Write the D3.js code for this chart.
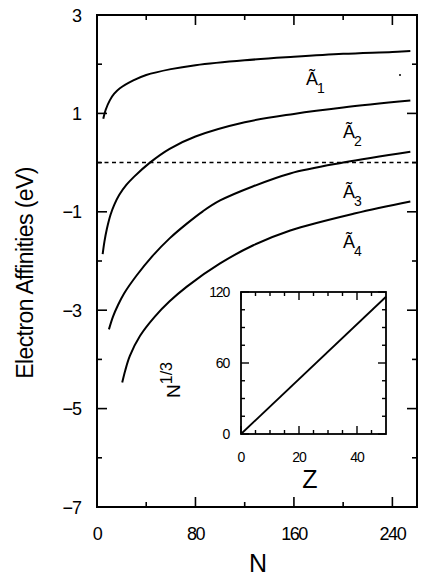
<!DOCTYPE html>
<html><head><meta charset="utf-8">
<script src="https://cdn.jsdelivr.net/npm/d3@7"></script>
<style>
html,body{margin:0;padding:0;background:#fff;}
svg{display:block;}
text{font-family:"Liberation Sans",Arial,sans-serif;fill:#000;}
</style></head>
<body><svg id="c" width="436" height="578"></svg>
<script>
// ---- data ----
const xTicksMajor = [0, 80, 160, 240];
const xTicksMinor = [40, 120, 200];
const yTicksMajor = [3, 1, -1, -3, -5, -7];
const yTicksMinor = [2, 0, -2, -4, -6];
const seriesLabels = ["1", "2", "3", "4"];
const curveA1 = [[5.1,0.89],[7,1.07],[10.5,1.27],[14,1.4],[18.6,1.51],[29.5,1.67],[40,1.78],[60,1.9],[80,1.98],[120,2.08],[160,2.15],[200,2.21],[240,2.25],[254.6,2.27]];
const curveA2 = [[4.6,-1.86],[6,-1.61],[8,-1.35],[11,-1.06],[14,-0.86],[18,-0.66],[24,-0.45],[30,-0.29],[43,0],[59,0.28],[80,0.53],[120,0.82],[160,0.99],[200,1.12],[254.6,1.26]];
const curveA3 = [[9.7,-3.39],[13,-3.13],[17,-2.9],[22,-2.66],[32,-2.3],[45,-1.9],[59,-1.54],[73,-1.24],[86,-0.99],[100,-0.77],[127,-0.48],[157,-0.22],[200,0.0],[254.6,0.22]];
const curveA4 = [[20.5,-4.47],[23,-4.22],[26.7,-3.93],[35,-3.52],[47,-3.13],[59,-2.82],[73,-2.52],[100,-2.05],[127,-1.68],[157,-1.38],[210,-1.03],[254.6,-0.79]];
const referenceLevel = 0;
// inset
const insetXTicksMajor = [0, 20, 40];
const insetXTicksMinor = [5, 10, 15, 25, 30, 35, 45];
const insetYTicksMajor = [0, 60, 120];
const insetYTicksMinor = [15, 30, 45, 75, 90, 105];
const insetLine = [[0,0],[50,116]];

// ---- layout ----
const svg = d3.select("#c");
const x = d3.scaleLinear().domain([0, 260]).range([97, 417]);
const y = d3.scaleLinear().domain([-7, 3]).range([507, 15]);

const g = svg.append("g");
g.append("rect").attr("x", x(0)).attr("y", y(3)).attr("width", x(260)-x(0)).attr("height", y(-7)-y(3))
  .attr("fill","none").attr("stroke","#000").attr("stroke-width",2);

function ticks(sel, vals, len, axis) {
  vals.forEach(v => {
    if (axis === "x") {
      sel.append("line").attr("x1", x(v)).attr("x2", x(v)).attr("y1", y(-7)).attr("y2", y(-7)-len).attr("stroke","#000").attr("stroke-width",1.6);
      sel.append("line").attr("x1", x(v)).attr("x2", x(v)).attr("y1", y(3)).attr("y2", y(3)+len).attr("stroke","#000").attr("stroke-width",1.6);
    } else {
      sel.append("line").attr("y1", y(v)).attr("y2", y(v)).attr("x1", x(0)).attr("x2", x(0)+len).attr("stroke","#000").attr("stroke-width",1.6);
      sel.append("line").attr("y1", y(v)).attr("y2", y(v)).attr("x1", x(260)).attr("x2", x(260)-len).attr("stroke","#000").attr("stroke-width",1.6);
    }
  });
}
ticks(g, xTicksMajor, 10, "x");
ticks(g, xTicksMinor, 5, "x");
ticks(g, yTicksMajor, 10, "y");
ticks(g, yTicksMinor, 5, "y");

xTicksMajor.forEach(v => {
  g.append("text").attr("x", x(v)).attr("y", 540).attr("text-anchor","middle")
    .attr("font-size",18).attr("letter-spacing","-1.5px").text(String(v));
});
yTicksMajor.forEach(v => {
  g.append("text").attr("x", 81).attr("y", y(v)+6.5).attr("text-anchor","end")
    .attr("font-size",18).attr("letter-spacing","-1px").text(v < 0 ? "\u2212" + Math.abs(v) : String(v));
});
g.append("text").attr("x", 258).attr("y", 572).attr("text-anchor","middle").attr("font-size",25).text("N");
g.append("text").attr("transform","translate(33,273) rotate(-90)").attr("text-anchor","middle")
  .attr("font-size",23).attr("letter-spacing","-0.6px").text("Electron Affinities (eV)");

g.append("line").attr("x1", x(0)).attr("x2", x(260)).attr("y1", y(referenceLevel)).attr("y2", y(referenceLevel))
  .attr("stroke","#000").attr("stroke-width",1.5).attr("stroke-dasharray","4,3.5");

const line = d3.line().x(d => x(d[0])).y(d => y(d[1])).curve(d3.curveCatmullRom.alpha(0.5));
[curveA1, curveA2, curveA3, curveA4].forEach(c => {
  g.append("path").attr("d", line(c)).attr("fill","none").attr("stroke","#000").attr("stroke-width",2);
});

const labelPos = [[306,85],[343,138],[343,198],[343,248]];
seriesLabels.forEach((s, i) => {
  const [lx, ly] = labelPos[i];
  const t = g.append("text").attr("x", lx).attr("y", ly).attr("font-size",18);
  t.append("tspan").text("\u00C3");
  t.append("tspan").attr("dy",8).attr("dx",-1).attr("font-size",14).text(s);
});
g.append("circle").attr("cx",400).attr("cy",75).attr("r",1).attr("fill","#000");

// ---- inset ----
const ix = d3.scaleLinear().domain([0, 50]).range([241, 386]);
const iy = d3.scaleLinear().domain([0, 120]).range([434, 292]);
const ig = svg.append("g");
ig.append("rect").attr("x", ix(0)).attr("y", iy(120)).attr("width", ix(50)-ix(0)).attr("height", iy(0)-iy(120))
  .attr("fill","#fff").attr("stroke","#000").attr("stroke-width",1.8);
function iticks(vals, len, axis) {
  vals.forEach(v => {
    if (axis === "x") {
      ig.append("line").attr("x1", ix(v)).attr("x2", ix(v)).attr("y1", iy(0)).attr("y2", iy(0)-len).attr("stroke","#000").attr("stroke-width",1.4);
      ig.append("line").attr("x1", ix(v)).attr("x2", ix(v)).attr("y1", iy(120)).attr("y2", iy(120)+len).attr("stroke","#000").attr("stroke-width",1.4);
    } else {
      ig.append("line").attr("y1", iy(v)).attr("y2", iy(v)).attr("x1", ix(0)).attr("x2", ix(0)+len).attr("stroke","#000").attr("stroke-width",1.4);
      ig.append("line").attr("y1", iy(v)).attr("y2", iy(v)).attr("x1", ix(50)).attr("x2", ix(50)-len).attr("stroke","#000").attr("stroke-width",1.4);
    }
  });
}
iticks(insetXTicksMajor, 8, "x");
iticks(insetXTicksMinor, 4, "x");
iticks(insetYTicksMajor, 8, "y");
iticks(insetYTicksMinor, 4, "y");
ig.append("path").attr("d", d3.line().x(d => ix(d[0])).y(d => iy(d[1]))(insetLine))
  .attr("fill","none").attr("stroke","#000").attr("stroke-width",1.8);
insetXTicksMajor.forEach(v => {
  ig.append("text").attr("x", ix(v)).attr("y", 462).attr("text-anchor","middle")
    .attr("font-size",14).attr("letter-spacing","-1px").text(String(v));
});
insetYTicksMajor.forEach(v => {
  ig.append("text").attr("x", 229).attr("y", iy(v)+5).attr("text-anchor","end")
    .attr("font-size",14).attr("letter-spacing","-1.2px").text(String(v));
});
ig.append("text").attr("x", 310).attr("y", 488).attr("text-anchor","middle").attr("font-size",25).text("Z");
const nt = ig.append("text").attr("transform","translate(180,398) rotate(-90)").attr("font-size",19);
nt.append("tspan").text("N");
nt.append("tspan").attr("dy",-8).attr("font-size",16).text("1/3");
</script></body></html>
